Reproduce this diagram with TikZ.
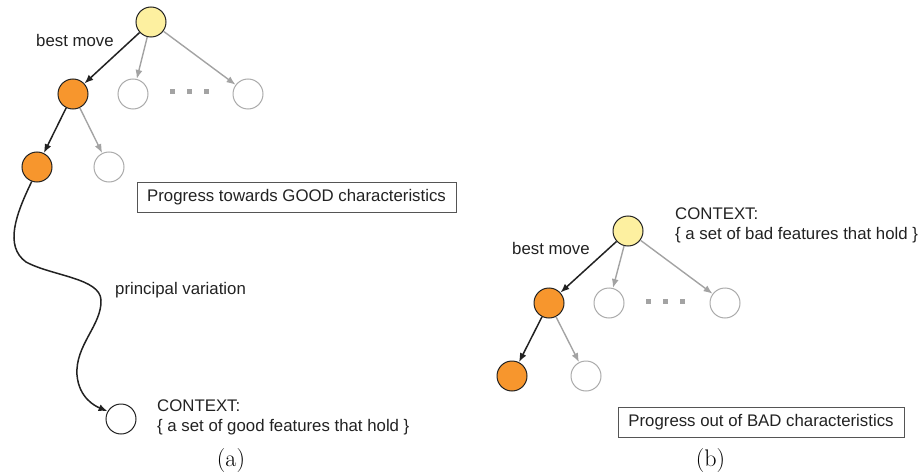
\documentclass[tikz,border=0pt]{standalone}
\usepackage{fontspec}
\newfontfamily\arialfam{Liberation Sans}
\usetikzlibrary{arrows.meta}

\definecolor{txt}{HTML}{222222}
\definecolor{edgedark}{HTML}{222222}
\definecolor{edgegray}{HTML}{A3A3A3}
\definecolor{circgray}{HTML}{ABABAB}
\definecolor{boxgray}{HTML}{555555}
\definecolor{rootyellow}{HTML}{FDF0A0}
\definecolor{pickorange}{HTML}{F7962D}

\newcommand\labfont{\arialfam\fontsize{16.8}{20}\selectfont}
\newcommand\capfont{\fontsize{24}{28}\selectfont}

\begin{document}
\begin{tikzpicture}[x=1pt,y=-1pt,
  state/.style={circle, minimum size=30pt, inner sep=0pt, line width=1pt},
  rootnode/.style={state, draw=edgedark, fill=rootyellow},
  picked/.style={state, draw=edgedark, fill=pickorange},
  other/.style={state, draw=circgray, fill=white},
  leaf/.style={state, draw=edgedark, fill=white},
  bestedge/.style={-{Latex[length=9pt,width=7pt]}, line width=1.5pt, draw=edgedark},
  sideedge/.style={-{Latex[length=9pt,width=7pt]}, line width=1.4pt, draw=edgegray},
  lbl/.style={font=\labfont, text=txt, inner sep=0pt, anchor=base west},
  goalbox/.style={draw=boxgray, line width=1pt, font=\labfont, text=txt,
                  minimum height=30pt, inner sep=0pt},
  caption/.style={font=\capfont, inner sep=0pt, anchor=base},
  dotsq/.style={fill=edgegray}
]
\useasboundingbox (0,0) rectangle (923,476);

% ---------- (a) progress towards good characteristics ----------
\node[rootnode] (ra) at (151,22) {};
\node[picked]   (o1a) at (73,94) {};
\node[other]    (w1a) at (133,94) {};
\node[other]    (w2a) at (248,94) {};
\node[picked]   (o2a) at (37,167) {};
\node[other]    (w3a) at (109,167) {};
\node[leaf]     (enda) at (121,419) {};

\foreach \x in {172,189,206}
  \fill[dotsq] (\x,92) ++(-2.5,-2.5) rectangle ++(5,5);

\draw[bestedge] (ra) -- (o1a);
\draw[sideedge] (ra) -- (w1a);
\draw[sideedge] (ra) -- (w2a);
\draw[bestedge] (o1a) -- (o2a);
\draw[sideedge] (o1a) -- (w3a);

% principal variation down to the good context
\draw[bestedge] (o2a.250) .. controls (16,214) and (4,246) .. (26,262)
  .. controls (52,276) and (100,278) .. (101,300)
  .. controls (102,325) and (75,345) .. (77,375)
  .. controls (79,398) and (95,406) .. (enda.150);

\node[lbl] (bma) at (36,47) {best move};
\node[lbl] (pva) at (115,294) {principal variation};
\node[lbl] (ctxa1) at (157,411) {CONTEXT:};
\node[lbl] (ctxa2) at (157,431) {\{ a set of good features that hold \}};
\node[goalbox, minimum width=319pt] (boxa) at (296.5,197) {Progress towards GOOD characteristics};
\node[caption] (capa) at (231,466) {(a)};

% ---------- (b) progress out of bad characteristics ----------
\node[rootnode] (rb) at (628,231) {};
\node[picked]   (o1b) at (549,303) {};
\node[other]    (w1b) at (609,303) {};
\node[other]    (w2b) at (725,303) {};
\node[picked]   (o2b) at (512,376) {};
\node[other]    (w3b) at (586,376) {};

\foreach \x in {648,665,682}
  \fill[dotsq] (\x,301) ++(-2.5,-2.5) rectangle ++(5,5);

\draw[bestedge] (rb) -- (o1b);
\draw[sideedge] (rb) -- (w1b);
\draw[sideedge] (rb) -- (w2b);
\draw[bestedge] (o1b) -- (o2b);
\draw[sideedge] (o1b) -- (w3b);

\node[lbl] (bmb) at (512,254) {best move};
\node[lbl] (ctxb1) at (675,219) {CONTEXT:};
\node[lbl] (ctxb2) at (675,239) {\{ a set of bad features that hold \}};
\node[goalbox, minimum width=286pt] (boxb) at (761,422.5) {Progress out of BAD characteristics};
\node[caption] (capb) at (710.5,466) {(b)};
\end{tikzpicture}
\end{document}
